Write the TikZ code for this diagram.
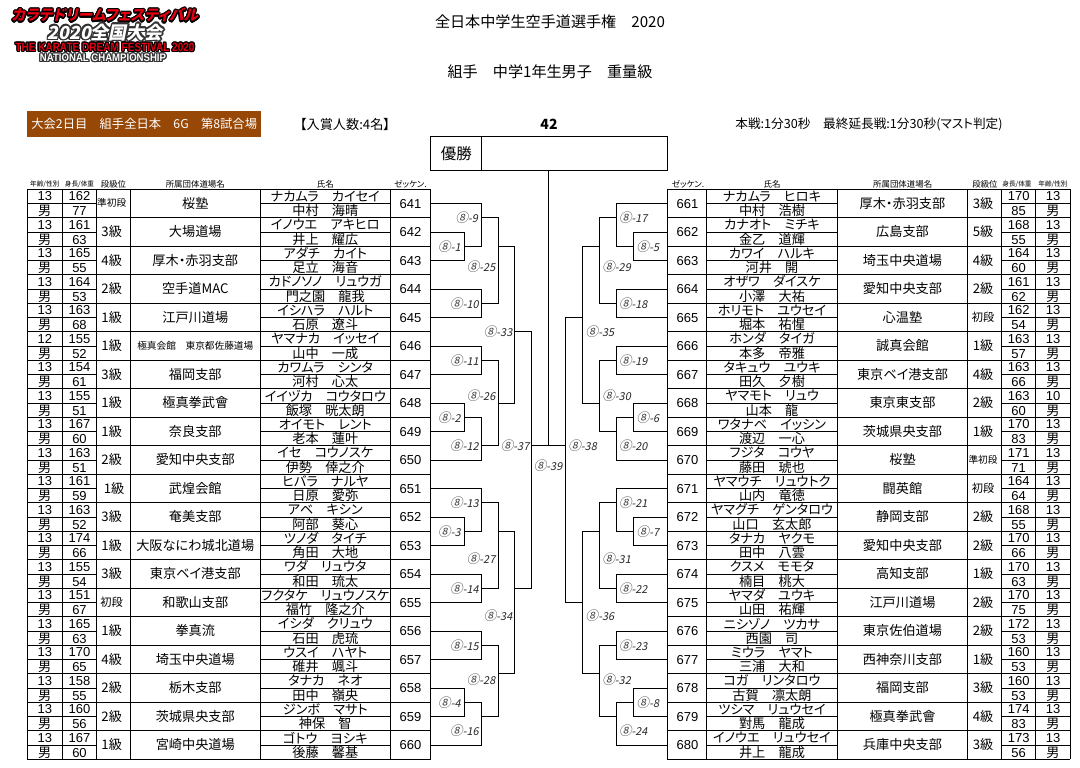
\documentclass[tikz,border=0pt]{standalone}
\usepackage{fontspec}
\usepackage{contour}
\setmainfont[RawFeature=+palt]{Noto Sans CJK JP}
\newfontfamily\digitfont{Liberation Sans}
\newfontfamily\roundfont[FakeSlant=0.2]{Noto Sans CJK JP}
\newfontfamily\logofont[FakeSlant=0.2,RawFeature=+palt]{Noto Sans CJK JP}
\newfontfamily\logolatin{Liberation Sans}
\definecolor{brownbar}{HTML}{974706}
\definecolor{logored}{HTML}{E60012}
\newcommand{\rnd}[1]{{\fontsize{7.2}{7}\selectfont\color{black!75}⑧}-#1}
\newcommand{\narrowtxt}[1]{{\fontsize{5.5}{6}\selectfont #1}}
\contourlength{0.75pt}
\tikzset{
  cell/.style={inner sep=0pt,outer sep=0pt,font=\fontsize{7.5}{8}\selectfont},
  digit/.style={inner sep=0pt,outer sep=0pt,font=\digitfont\fontsize{7.4}{8}\selectfont},
  head/.style={inner sep=0pt,outer sep=0pt,font=\fontsize{4.8}{5}\selectfont},
  headsm/.style={inner sep=0pt,outer sep=0pt,font=\fontsize{3.8}{4}\selectfont},
  matchlabel/.style={inner sep=0pt,outer sep=0pt,text=black!85,font=\roundfont\fontsize{6.2}{7}\selectfont},
  logoline/.style={inner sep=0pt,outer sep=0pt}
}
\begin{document}
\begin{tikzpicture}[x=0.02cm,y=-0.02cm,line width=0.55pt]
\useasboundingbox (0,0) rectangle (1080,768);

\draw (105,16) node[logoline,font=\logofont\bfseries\fontsize{8.4}{9}\selectfont] (logoa) {\contour{black}{\textcolor{logored}{カラテドリームフェスティバル}}};
\draw (105,33) node[logoline,font=\logofont\bfseries\fontsize{10.2}{11}\selectfont] (logob) {\contour{black!80}{\textcolor{white}{2020全国大会}}};
\draw (105,48) node[logoline,xscale=0.84,font=\logolatin\bfseries\fontsize{6.8}{7}\selectfont] (logoc) {\contour{black}{\textcolor{logored}{THE KARATE DREAM FESTIVAL 2020}}};
\draw (103,58.5) node[logoline,xscale=0.88,font=\logolatin\bfseries\fontsize{6.2}{7}\selectfont] (logod) {\contour{black!80}{\textcolor{white}{NATIONAL CHAMPIONSHIP}}};

\draw (550,22) node[cell,font=\fontsize{8.6}{9}\selectfont] (title) {全日本中学生空手道選手権　2020};
\draw (550,72) node[cell,font=\fontsize{8.6}{9}\selectfont] (subtitle) {組手　中学1年生男子　重量級};
\draw (144.2,124) node[cell,fill=brownbar,text=white,minimum width=4.67cm,minimum height=0.52cm,font=\fontsize{7}{8}\selectfont] (session) {大会2日目　組手全日本　6G　第8試合場};
\draw (345,124) node[cell] (prize) {【入賞人数:4名】};
\draw (549,124) node[cell,font=\bfseries\fontsize{8}{8}\selectfont] (draws) {42};
\draw (869,124) node[cell,font=\fontsize{7.2}{8}\selectfont] (rule) {本戦:1分30秒　最終延長戦:1分30秒(マスト判定)};

\draw (456.3,153.3) node[cell,draw,minimum width=1.014cm,minimum height=0.68cm,font=\fontsize{8.8}{10}\selectfont] (champlabel) {優勝};
\draw (574.7,153.3) node[cell,draw,minimum width=3.72cm,minimum height=0.68cm] (champ) {};

\draw (44.8,184.3) node[headsm] (headagel) {年齢/性別};
\draw (79.5,184.3) node[headsm] (headhgtl) {身長/体重};
\draw (113.5,184) node[head] (headrankl) {段級位};
\draw (195.3,184) node[head] (headclubl) {所属団体道場名};
\draw (325.3,184) node[head] (headnamel) {氏名};
\draw (410.5,184) node[head] (headnuml) {ゼッケン.};
\draw (688,184) node[head] (headnumr) {ゼッケン.};
\draw (772,184) node[head] (headnamer) {氏名};
\draw (902.7,184) node[head] (headclubr) {所属団体道場名};
\draw (985,184) node[head] (headrankr) {段級位};
\draw (1017,184.3) node[headsm] (headhgtr) {身長/体重};
\draw (1053,184.3) node[headsm] (headager) {年齢/性別};

\foreach \num/\age/\hgt/\wgt/\rank/\club/\kana/\kanji [count=\i from 0] in {
  641/13/162/77/{\narrowtxt{準初段}}/桜塾/ナカムラ　カイセイ/中村　海晴,
  642/13/161/63/3級/大場道場/イノウエ　アキヒロ/井上　耀広,
  643/13/165/55/4級/厚木・赤羽支部/アダチ　カイト/足立　海音,
  644/13/164/53/2級/空手道MAC/カドノソノ　リュウガ/門之園　龍我,
  645/13/163/68/1級/江戸川道場/イシハラ　ハルト/石原　遼斗,
  646/12/155/52/1級/{\narrowtxt{極真会館　東京都佐藤道場}}/ヤマナカ　イッセイ/山中　一成,
  647/13/154/61/3級/福岡支部/カワムラ　シンタ/河村　心太,
  648/13/155/51/1級/極真拳武會/イイヅカ　コウタロウ/飯塚　晄太朗,
  649/13/167/60/1級/奈良支部/オイモト　レント/老本　蓮叶,
  650/13/163/51/2級/愛知中央支部/イセ　コウノスケ/伊勢　倖之介,
  651/13/161/59/\hspace*{2.8pt}1級/武煌会館/ヒバラ　ナルヤ/日原　愛弥,
  652/13/163/52/3級/奄美支部/アベ　キシン/阿部　葵心,
  653/13/174/66/1級/大阪なにわ城北道場/ツノダ　タイチ/角田　大地,
  654/13/155/54/3級/東京ベイ港支部/ワダ　リュウタ/和田　琉太,
  655/13/151/67/{\fontsize{6.4}{7}\selectfont 初段}/和歌山支部/フクタケ　リュウノスケ/福竹　隆之介,
  656/13/165/63/1級/拳真流/イシダ　クリュウ/石田　虎琉,
  657/13/170/65/4級/埼玉中央道場/ウスイ　ハヤト/碓井　颯斗,
  658/13/158/55/2級/栃木支部/タナカ　ネオ/田中　嶺央,
  659/13/160/56/2級/茨城県央支部/ジンボ　マサト/神保　智,
  660/13/167/60/1級/宮崎中央道場/ゴトウ　ヨシキ/後藤　馨基}{
  \pgfmathsetmacro\y{189.3+28.5*\i}
  \draw (44.8,\y+7.2) node[digit] (age\num) {\age};
  \draw (44.8,\y+21.6) node[cell] (sex\num) {男};
  \draw (79.5,\y+7.2) node[digit] (hgt\num) {\hgt};
  \draw (79.5,\y+21.8) node[digit] (wgt\num) {\wgt};
  \draw (111.7,\y+14) node[cell] (rank\num) {\rank};
  \draw (195.3,\y+14) node[cell] (club\num) {\club};
  \draw (325.3,\y+7) node[cell] (kana\num) {\kana};
  \draw (325.3,\y+21.5) node[cell] (kanji\num) {\kanji};
  \draw (410.5,\y+14.25) node[digit,minimum width=0.808cm,minimum height=0.4cm] (n\num) {\num};
}

\foreach \num/\age/\hgt/\wgt/\rank/\club/\kana/\kanji [count=\i from 0] in {
  661/13/170/85/3級/厚木・赤羽支部/ナカムラ　ヒロキ/中村　浩樹,
  662/13/168/55/5級/広島支部/カナオト　ミチキ/金乙　道輝,
  663/13/164/60/4級/埼玉中央道場/カワイ　ハルキ/河井　開,
  664/13/161/62/2級/愛知中央支部/オザワ　ダイスケ/小澤　大祐,
  665/13/162/54/{\fontsize{6.4}{7}\selectfont 初段}/心温塾/ホリモト　ユウセイ/堀本　祐惺,
  666/13/163/57/1級/誠真会館/ホンダ　タイガ/本多　帝雅,
  667/13/163/66/4級/東京ベイ港支部/タキュウ　ユウキ/田久　夕樹,
  668/10/163/60/2級/東京東支部/ヤマモト　リュウ/山本　龍,
  669/13/170/83/1級/茨城県央支部/ワタナベ　イッシン/渡辺　一心,
  670/13/171/71/{\narrowtxt{準初段}}/桜塾/フジタ　コウヤ/藤田　琥也,
  671/13/164/64/{\fontsize{6.4}{7}\selectfont 初段}/闘英館/ヤマウチ　リュウトク/山内　竜徳,
  672/13/168/55/2級/静岡支部/ヤマグチ　ゲンタロウ/山口　玄太郎,
  673/13/170/66/2級/愛知中央支部/タナカ　ヤクモ/田中　八雲,
  674/13/170/63/1級/高知支部/クスメ　モモタ/楠目　桃大,
  675/13/170/75/2級/江戸川道場/ヤマダ　ユウキ/山田　祐輝,
  676/13/172/53/2級/東京佐伯道場/ニシゾノ　ツカサ/西園　司,
  677/13/160/53/1級/西神奈川支部/ミウラ　ヤマト/三浦　大和,
  678/13/160/53/3級/福岡支部/コガ　リンタロウ/古賀　凛太朗,
  679/13/174/83/4級/極真拳武會/ツシマ　リュウセイ/對馬　龍成,
  680/13/173/56/3級/兵庫中央支部/イノウエ　リュウセイ/井上　龍成}{
  \pgfmathsetmacro\y{189.3+28.5*\i}
  \draw (1053,\y+7.2) node[digit] (age\num) {\age};
  \draw (1053,\y+21.6) node[cell] (sex\num) {男};
  \draw (1018.7,\y+7.2) node[digit] (hgt\num) {\hgt};
  \draw (1018.7,\y+21.8) node[digit] (wgt\num) {\wgt};
  \draw (983,\y+14) node[cell] (rank\num) {\rank};
  \draw (902.5,\y+14) node[cell] (club\num) {\club};
  \draw (772,\y+7) node[cell] (kana\num) {\kana};
  \draw (772,\y+21.5) node[cell] (kanji\num) {\kanji};
  \draw (687.5,\y+14.25) node[digit,minimum width=0.794cm,minimum height=0.4cm] (n\num) {\num};
}

\foreach \xx in {27.3,62.3,96.7,130.3,260.3,390.3,430.7,667.3,706.7,837.3,967.7,1001.7,1035.7,1070.3}
  \draw (\xx,189.3) -- (\xx,759.3);
\foreach \i in {0,...,20}{
  \pgfmathsetmacro\y{189.3+28.5*\i}
  \draw (27.3,\y) -- (430.7,\y);
  \draw (667.3,\y) -- (1070.3,\y);
}
\foreach \i in {0,...,19}{
  \pgfmathsetmacro\y{189.3+28.5*\i+14.25}
  \draw (27.3,\y) -- (96.7,\y);
  \draw (260.3,\y) -- (390.3,\y);
  \draw (706.7,\y) -- (837.3,\y);
  \draw (1001.7,\y) -- (1070.3,\y);
}

\foreach \name/\xx/\nn in {
  m1/464.3/4,m2/464.3/16,m3/464.3/24,m4/464.3/36,
  m9/481.7/2,m10/481.7/8,m11/481.7/12,m12/481.7/18,m13/481.7/22,m14/481.7/28,m15/481.7/32,m16/481.7/37,
  m25/498.3/4,m26/498.3/15,m27/498.3/24,m28/498.3/34,
  m33/514.3/10,m34/514.3/28,m37/531.7/18,
  m5/633.3/4,m6/633.3/16,m7/633.3/24,m8/633.3/36,
  m17/616.7/2,m18/616.7/8,m19/616.7/12,m20/616.7/17,m21/616.7/22,m22/616.7/28,m23/616.7/32,m24/616.7/37,
  m29/599.3/4,m30/599.3/15,m31/599.3/24,m32/599.3/34,
  m35/582.7/9,m36/582.7/29,m38/565.3/18,m39/548.3/18}
  \coordinate (\name) at (\xx,189.3+14.25*\nn);

\foreach \from/\match/\to in {
  n642.east/m1/n643.east, n648.east/m2/n649.east, n652.east/m3/n653.east, n658.east/m4/n659.east,
  n641.east/m9/m1, n644.east/m10/n645.east, n646.east/m11/n647.east, m2/m12/n650.east,
  n651.east/m13/m3, n654.east/m14/n655.east, n656.east/m15/n657.east, m4/m16/n660.east,
  m9/m25/m10, m11/m26/m12, m13/m27/m14, m15/m28/m16,
  m25/m33/m26, m27/m34/m28, m33/m37/m34,
  n662.west/m5/n663.west, n668.west/m6/n669.west, n672.west/m7/n673.west, n678.west/m8/n679.west,
  n661.west/m17/m5, n664.west/m18/n665.west, n666.west/m19/n667.west, m6/m20/n670.west,
  n671.west/m21/m7, n674.west/m22/n675.west, n676.west/m23/n677.west, m8/m24/n680.west,
  m17/m29/m18, m19/m30/m20, m21/m31/m22, m23/m32/m24,
  m29/m35/m30, m31/m36/m32, m35/m38/m36}
  \draw (\from) -| (\match) |- (\to);
\draw (m37) -- (m38);
\draw (m39) -- (m39 |- champ.south);

\foreach \id/\xx/\nn in {
  9/478/2,1/460.7/4,25/495.3/5.4,10/478.7/8,33/512.3/10,11/478.7/12,26/495.3/14.5,2/460.7/16,12/478.7/18,37/529.3/18,
  39/562.3/19.4,13/478.7/22,3/460.7/24,27/495.3/25.9,14/478.7/28,34/512.3/29.9,15/478.7/32,28/495.3/34.4,4/460.7/36,16/478.7/38}
  \draw (\xx,189.3+14.25*\nn) node[matchlabel,anchor=east] (lab\id) {\rnd{\id}};
\foreach \id/\xx/\nn in {
  17/619/2,5/636.7/4,29/602.3/5.4,18/619/8,35/585.7/10,19/619/12,30/602.3/14.5,6/636.7/16,20/619/18,38/568.3/18,
  21/619/22,7/636.7/24,31/602.3/25.9,22/619/28,36/585.7/29.9,23/619/32,32/602.3/34.4,8/636.7/36,24/619/38}
  \draw (\xx,189.3+14.25*\nn) node[matchlabel,anchor=west] (lab\id) {\rnd{\id}};
\end{tikzpicture}
\end{document}
